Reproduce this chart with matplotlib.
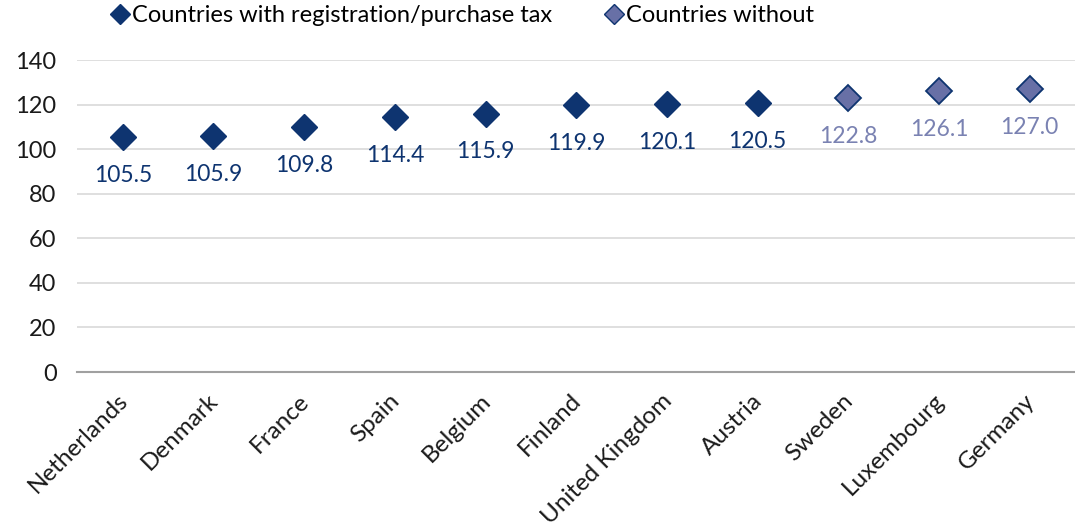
import matplotlib.pyplot as plt
from matplotlib.lines import Line2D
from matplotlib.transforms import ScaledTranslation

plt.rcParams['font.family'] = ['Lato', 'DejaVu Sans']

countries = ['Netherlands', 'Denmark', 'France', 'Spain', 'Belgium', 'Finland',
             'United Kingdom', 'Austria', 'Sweden', 'Luxembourg', 'Germany']
values = [105.5, 105.9, 109.8, 114.4, 115.9, 119.9, 120.1, 120.5, 122.8, 126.1, 127.0]
has_tax = [True] * 8 + [False] * 3

dark = '#0e3470'
light_fill = '#6870a6'
light_text = '#7a82b2'

fig = plt.figure(figsize=(10.75, 5.31), dpi=100)
ax = fig.add_axes([0.072, 0.2994, 0.928, 0.5876])

x = list(range(len(countries)))
for i, (v, t) in enumerate(zip(values, has_tax)):
    if t:
        ax.plot(i, v, marker='D', ms=13, color=dark, mec=dark, ls='none', zorder=3)
        ax.annotate(f'{v:.1f}', (i, v), xytext=(0, -20), textcoords='offset points',
                    ha='center', va='top', fontsize=16.5, color=dark)
    else:
        ax.plot(i, v, marker='D', ms=13, color=light_fill, mec=dark, mew=1.3, ls='none', zorder=3)
        ax.annotate(f'{v:.1f}', (i, v), xytext=(0, -20), textcoords='offset points',
                    ha='center', va='top', fontsize=16.5, color=light_text)

ax.set_xlim(-0.5, len(countries) - 0.5)
ax.set_ylim(0, 140)
ax.set_yticks(range(0, 141, 20))
ax.yaxis.grid(True, color='#d9d9d9', lw=1.2)
ax.set_axisbelow(True)
for s in ['top', 'right', 'left']:
    ax.spines[s].set_visible(False)
ax.spines['bottom'].set_color('#a0a0a0')
ax.spines['bottom'].set_linewidth(1.5)
ax.tick_params(axis='both', length=0, labelsize=17, colors='#1a1a1a')
ax.tick_params(axis='y', pad=15)
ax.set_xticks(x)
ax.set_xticklabels(countries, rotation=45, ha='right', rotation_mode='anchor', fontsize=17.5)
ax.tick_params(axis='x', pad=13)
shift = ScaledTranslation(-6 / 100, 0, fig.dpi_scale_trans)
for lab in ax.get_xticklabels():
    lab.set_transform(lab.get_transform() + shift)

handles = [Line2D([], [], marker='D', ls='none', ms=10, color=dark, mec=dark),
           Line2D([], [], marker='D', ls='none', ms=10, color=light_fill, mec=dark)]
fig.legend(handles, ['Countries with registration/purchase tax', 'Countries without'],
           loc='upper center', bbox_to_anchor=(0.43, 1.03), ncol=2, frameon=False,
           fontsize=17, handletextpad=0.1, columnspacing=2.2, handlelength=0.8)

fig.savefig('out.png', dpi=100)
